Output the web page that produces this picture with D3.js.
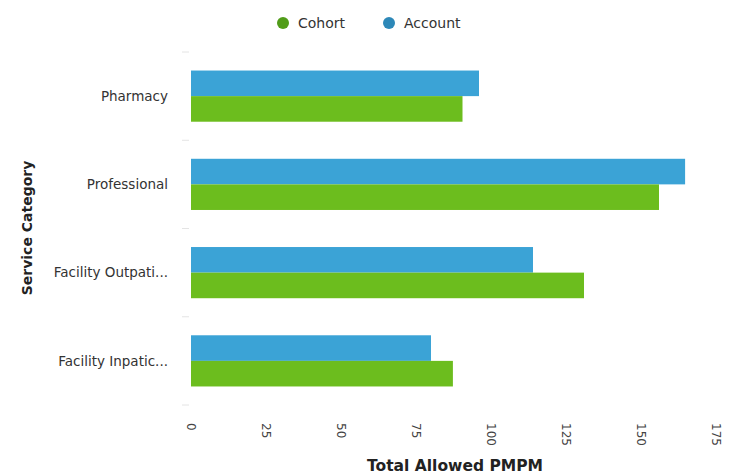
<!DOCTYPE html>
<html>
<head>
<meta charset="utf-8">
<script src="https://cdn.jsdelivr.net/npm/d3@7"></script>
<style>
  body { margin: 0; background: #fff; }
  text { font-family: "DejaVu Sans", Verdana, sans-serif; }
</style>
</head>
<body>
<div id="chart"></div>
<script>
// data
var categories = ["Pharmacy", "Professional", "Facility Outpati...", "Facility Inpatic..."];
var series = ["Account", "Cohort"];
var accountValues = [96, 164.7, 114, 80];
var cohortValues = [90.5, 156, 131, 87.3];
var xTicks = [0, 25, 50, 75, 100, 125, 150, 175];

var colors = { Account: "#3ba3d6", Cohort: "#6cbd1e" };
var legendColors = { Cohort: "#519c19", Account: "#2d88b8" };

var width = 738, height = 475;
var plotLeft = 191, plotRight = 716, plotTop = 52, plotBottom = 405;

var svg = d3.select("#chart").append("svg")
    .attr("width", width)
    .attr("height", height);

var x = d3.scaleLinear()
    .domain([0, 175])
    .range([plotLeft, plotRight]);

var y = d3.scaleBand()
    .domain(categories)
    .range([plotTop, plotBottom])
    .paddingInner(0.42)
    .paddingOuter(0.21);

var ySub = d3.scaleBand()
    .domain(series)
    .range([0, y.bandwidth()]);

var rows = categories.map(function (c, i) {
    return { cat: c, Account: accountValues[i], Cohort: cohortValues[i] };
});

// faint ticks on the band boundaries
var step = y.step();
var bounds = d3.range(categories.length + 1).map(function (i) {
    return plotTop + i * step;
});
svg.selectAll(".ytick")
    .data(bounds)
    .enter().append("line")
    .attr("x1", plotLeft - 9)
    .attr("x2", plotLeft - 2)
    .attr("y1", function (d) { return d; })
    .attr("y2", function (d) { return d; })
    .attr("stroke", "#e4e4e4")
    .attr("stroke-width", 1);

// bars
var groups = svg.selectAll(".grp")
    .data(rows)
    .enter().append("g")
    .attr("transform", function (d) {
        return "translate(0," + y(d.cat) + ")";
    });

groups.selectAll("rect")
    .data(function (d) {
        return series.map(function (s) { return { key: s, value: d[s] }; });
    })
    .enter().append("rect")
    .attr("x", x(0))
    .attr("y", function (d) { return ySub(d.key); })
    .attr("width", function (d) { return x(d.value) - x(0); })
    .attr("height", ySub.bandwidth())
    .attr("fill", function (d) { return colors[d.key]; });

// category labels
svg.selectAll(".ylabel")
    .data(categories)
    .enter().append("text")
    .attr("x", 168)
    .attr("y", function (d) { return y(d) + y.bandwidth() / 2; })
    .attr("dy", "0.35em")
    .attr("text-anchor", "end")
    .attr("font-size", "13.5px")
    .attr("fill", "#333")
    .text(function (d) { return d; });

// x axis, rotated tick labels
var xAxis = svg.append("g")
    .attr("transform", "translate(0," + (plotBottom + 16) + ")")
    .call(d3.axisBottom(x).tickValues(xTicks).tickSize(0).tickPadding(0));
xAxis.select(".domain").remove();
xAxis.selectAll("text")
    .attr("font-family", "DejaVu Sans, sans-serif")
    .attr("font-size", "12px")
    .attr("fill", "#444")
    .attr("text-anchor", "start")
    .attr("transform", "rotate(90)")
    .attr("x", 2)
    .attr("y", 0)
    .attr("dy", "0.35em");

// axis titles
svg.append("text")
    .attr("x", 455)
    .attr("y", 471)
    .attr("text-anchor", "middle")
    .attr("font-size", "15.5px")
    .attr("font-weight", "bold")
    .attr("fill", "#222")
    .text("Total Allowed PMPM");

svg.append("text")
    .attr("transform", "translate(32,228) rotate(-90)")
    .attr("text-anchor", "middle")
    .attr("font-size", "14px")
    .attr("font-weight", "bold")
    .attr("fill", "#222")
    .text("Service Category");

// legend
var legendItems = [
    { key: "Cohort", cx: 283 },
    { key: "Account", cx: 389 }
];
var legend = svg.selectAll(".legend")
    .data(legendItems)
    .enter().append("g")
    .attr("transform", function (d) { return "translate(" + d.cx + ",23)"; });
legend.append("circle")
    .attr("r", 6)
    .attr("fill", function (d) { return legendColors[d.key]; });
legend.append("text")
    .attr("x", 15)
    .attr("dy", "0.35em")
    .attr("font-size", "14px")
    .attr("fill", "#333")
    .text(function (d) { return d.key; });
</script>
</body>
</html>
